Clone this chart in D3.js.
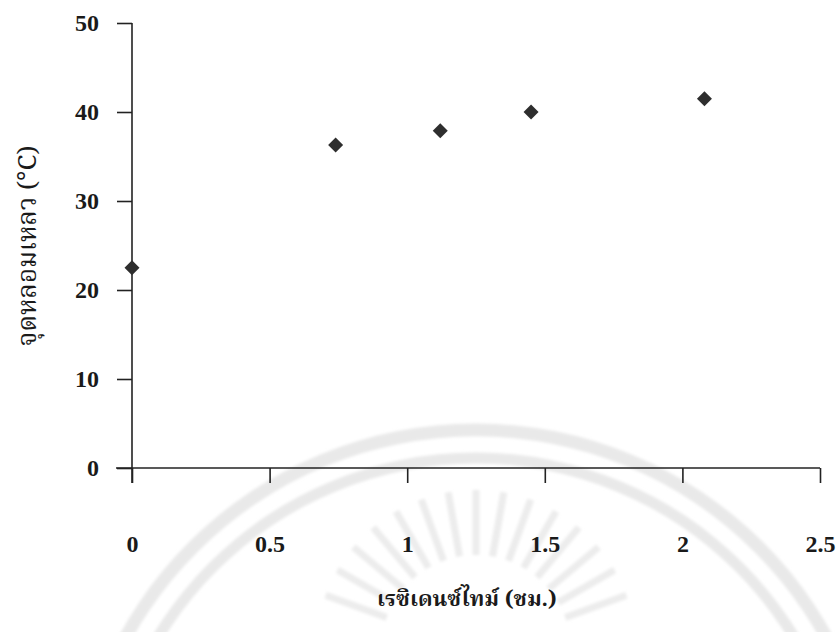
<!DOCTYPE html>
<html>
<head>
<meta charset="utf-8">
<script src="https://cdn.jsdelivr.net/npm/d3@7"></script>
<style>
  html, body { margin: 0; padding: 0; background: #fff; }
  svg { display: block; }
</style>
</head>
<body>
<svg id="chart" width="840" height="632"></svg>
<script>
// Residence time (h) vs. melting point (°C)
const residenceTime = [0, 0.74, 1.12, 1.45, 2.08];
const meltingPoint = [22.5, 36.3, 37.9, 40.0, 41.5];
const xTicks = [0, 0.5, 1, 1.5, 2, 2.5];
const yTicks = [0, 10, 20, 30, 40, 50];
const xTitle = "เรซิเดนซ์ไทม์ (ชม.)";
const yTitle = "จุดหลอมเหลว (°C)";

const svg = d3.select("#chart");
const x = d3.scaleLinear().domain([0, 2.5]).range([132, 820]);
const y = d3.scaleLinear().domain([0, 50]).range([468, 23]);

const ink = "#222";
const serif = "'Liberation Serif', 'Times New Roman', serif";
const thaiSerif = "'Noto Serif Thai', 'Norasi', 'Loma', 'Liberation Serif', serif";

// faint, soft seal behind the plot
svg.append("defs").append("filter").attr("id", "soft")
  .append("feGaussianBlur").attr("stdDeviation", 1.6);
const seal = svg.append("g").attr("filter", "url(#soft)");
const arc = d3.arc().startAngle(-Math.PI / 2).endAngle(Math.PI / 2);
[[400, 13], [372, 11]].forEach(([rad, w]) => {
  seal.append("path")
    .attr("transform", "translate(476,830)")
    .attr("d", arc.innerRadius(rad - w / 2).outerRadius(rad + w / 2)())
    .attr("fill", "#e9e9e9");
});
d3.range(-160, -19, 10).forEach(a => {
  const t = a * Math.PI / 180;
  seal.append("line")
    .attr("x1", 476 + 95 * Math.cos(t)).attr("y1", 650 + 95 * Math.sin(t))
    .attr("x2", 476 + 160 * Math.cos(t)).attr("y2", 650 + 160 * Math.sin(t))
    .attr("stroke", "#ececec").attr("stroke-width", 7);
});

// x axis: ticks hang below the line, labels well below
const gx = svg.append("g").attr("transform", `translate(0,${y(0)})`)
  .call(d3.axisBottom(x).tickValues(xTicks).tickSize(15).tickPadding(52)
    .tickFormat(d => String(d)));
gx.select(".domain").remove();
gx.append("line").attr("x1", 116).attr("x2", x(2.5))
  .attr("stroke", ink).attr("stroke-width", 1.6);
gx.selectAll(".tick line").attr("stroke", ink).attr("stroke-width", 1.6);
gx.selectAll(".tick text").attr("fill", "#1a1a1a")
  .style("font-family", serif).style("font-weight", "bold").style("font-size", "24px");

// y axis: ticks point left
const gy = svg.append("g").attr("transform", `translate(${x(0)},0)`)
  .call(d3.axisLeft(y).tickValues(yTicks).tickSize(15).tickPadding(18)
    .tickFormat(d => String(d)));
gy.select(".domain").remove();
gy.append("line").attr("y1", y(50)).attr("y2", 483)
  .attr("stroke", ink).attr("stroke-width", 1.6);
gy.selectAll(".tick line").attr("stroke", ink).attr("stroke-width", 1.6);
gy.selectAll(".tick text").attr("fill", "#1a1a1a")
  .style("font-family", serif).style("font-weight", "bold").style("font-size", "24px");

// data markers: filled diamonds
const r = 7.5;
svg.append("g").selectAll("path")
  .data(residenceTime.map((t, i) => [t, meltingPoint[i]]))
  .join("path")
  .attr("d", d => {
    const cx = x(d[0]), cy = y(d[1]);
    return `M${cx},${cy - r}L${cx + r},${cy}L${cx},${cy + r}L${cx - r},${cy}Z`;
  })
  .attr("fill", "#2e2e2e");

// axis titles
svg.append("text")
  .attr("x", 467).attr("y", 606)
  .attr("text-anchor", "middle")
  .attr("fill", "#1a1a1a")
  .style("font-family", thaiSerif).style("font-weight", "bold").style("font-size", "22px")
  .text(xTitle);

svg.append("text")
  .attr("transform", `translate(36,246) rotate(-90)`)
  .attr("text-anchor", "middle")
  .attr("fill", "#1a1a1a")
  .style("font-family", thaiSerif).style("font-size", "26px")
  .text(yTitle);
</script>
</body>
</html>
